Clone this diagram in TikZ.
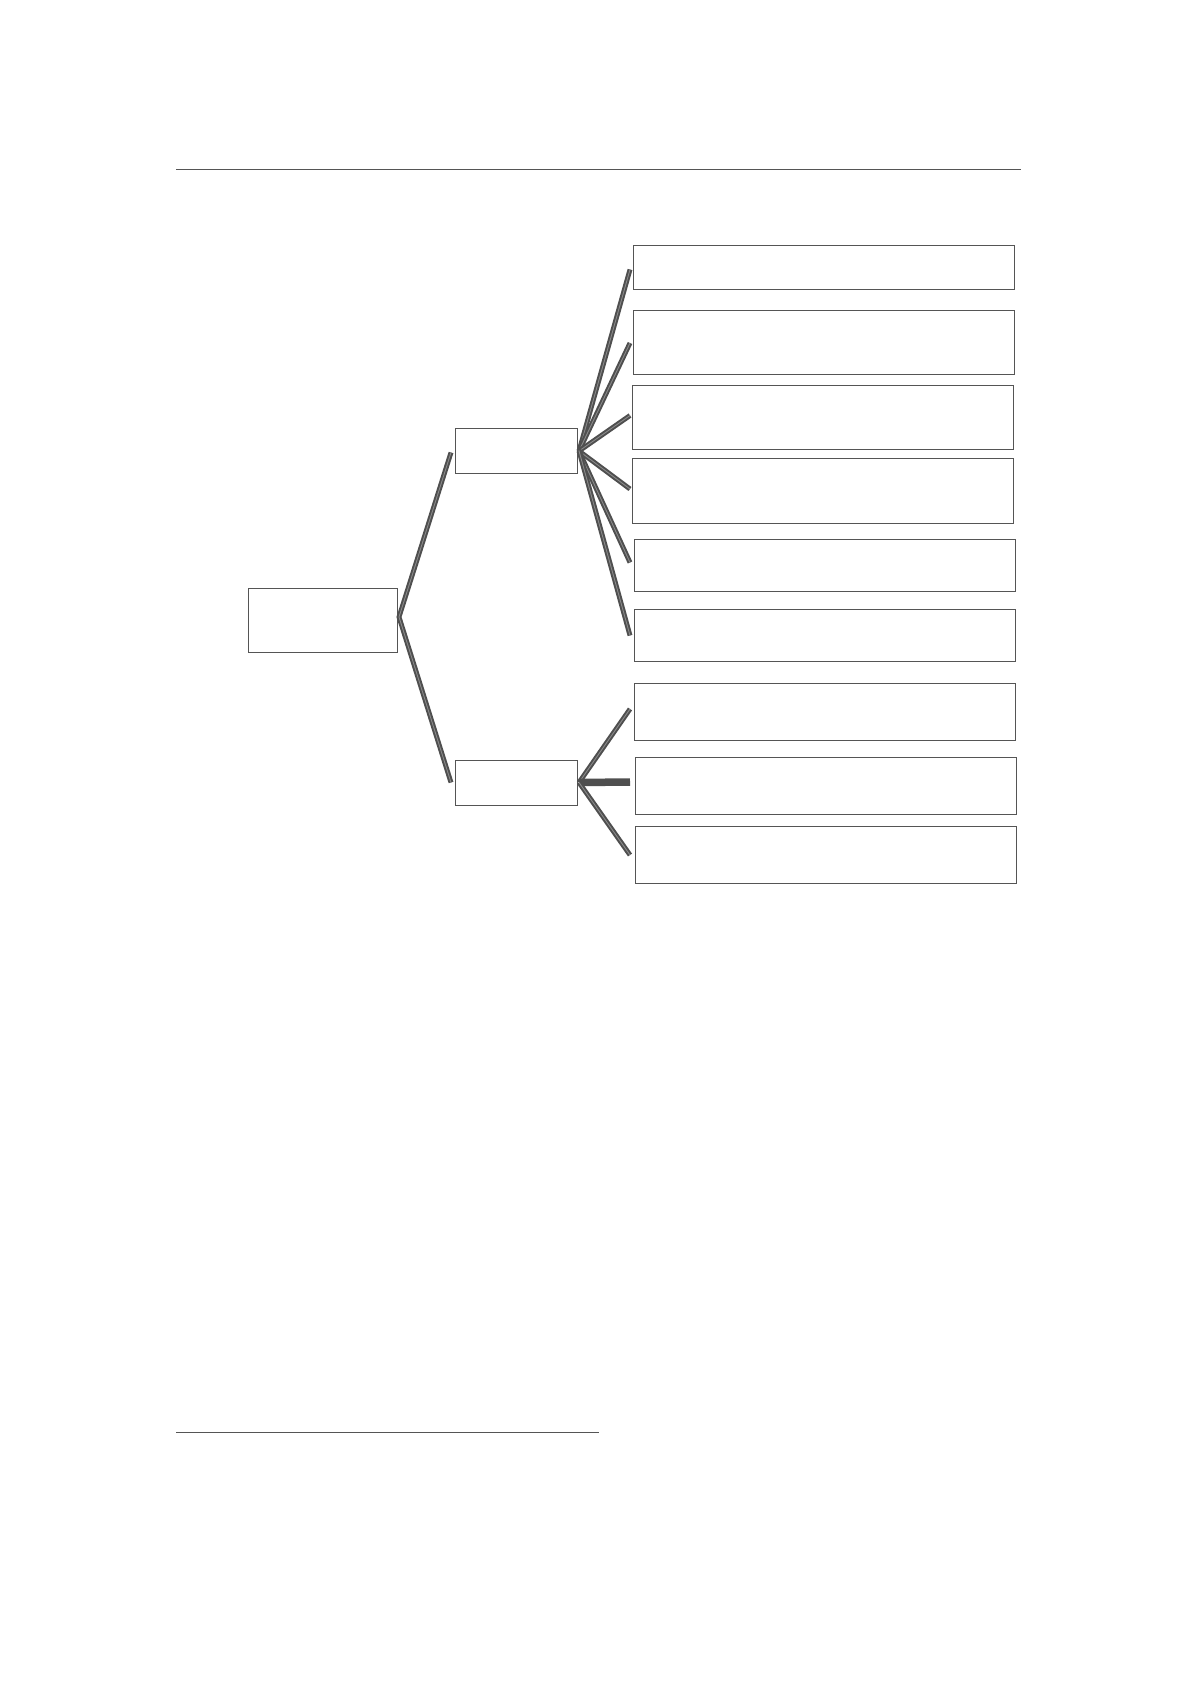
\documentclass[tikz,border=0pt]{standalone}
\usetikzlibrary{calc}
\definecolor{boxc}{HTML}{555555}
\definecolor{linkc}{HTML}{4F4F4F}
\definecolor{linkmid}{HTML}{8A8A8A}
\begin{document}
\begin{tikzpicture}[x=1pt,y=-1pt,
  box/.style={draw=boxc,line width=1pt,fill=white,anchor=north west,inner sep=0pt,outer sep=0pt},
  link/.style={draw=linkc,line width=2pt,double=linkmid,double distance=0.9pt},
  boldlink/.style={draw=linkc,line width=7.5pt}]
\fill[white] (0,0) rectangle (1197,1693);
\useasboundingbox (0,0) rectangle (1197,1693);
% rules
\coordinate (t1) at (176,169.5);
\coordinate (t2) at (1021,169.5);
\draw[boxc,line width=1pt] (t1) -- (t2);
\coordinate (b1) at (176,1432);
\coordinate (b2) at (599,1432);
\draw[boxc,line width=1pt] (b1) -- (b2);
% boxes
\node[box,minimum width=149pt,minimum height=64pt] (root) at (248,588) {};
\node[box,minimum width=122pt,minimum height=45pt] (m1) at (455,428) {};
\node[box,minimum width=122pt,minimum height=45pt] (m2) at (455,760) {};
\node[box,minimum width=381pt,minimum height=44pt] (l1) at (633,246) {};
\node[box,minimum width=381pt,minimum height=64pt] (l2) at (633,310.5) {};
\node[box,minimum width=381pt,minimum height=64pt] (l3) at (632,385) {};
\node[box,minimum width=381pt,minimum height=65pt] (l4) at (632,458.5) {};
\node[box,minimum width=381pt,minimum height=52pt] (l5) at (634,539.5) {};
\node[box,minimum width=381pt,minimum height=52pt] (l6) at (634,609.5) {};
\node[box,minimum width=381pt,minimum height=57pt] (l7) at (634,683) {};
\node[box,minimum width=381pt,minimum height=57pt] (l8) at (635,757) {};
\node[box,minimum width=381pt,minimum height=57pt] (l9) at (635,826) {};
% connectors
\coordinate (r0) at ($(root.east)+(2,-3)$);
\draw[link] ($(m1.west)+(-4,2)$) -- (r0) -- ($(m2.west)+(-4,0)$);
\coordinate (f1) at ($(m1.east)+(2,0.5)$);
\draw[link] (f1) -- ($(l1.west)+(-3,1.5)$);
\draw[link] (f1) -- ($(l2.west)+(-3,0.5)$);
\draw[link] (f1) -- ($(l3.west)+(-2,-1.5)$);
\draw[link] (f1) -- ($(l4.west)+(-2,-2)$);
\draw[link] (f1) -- ($(l5.west)+(-4,-3)$);
\draw[link] (f1) -- ($(l6.west)+(-4,0)$);
\coordinate (f2) at ($(m2.east)+(2,0)$);
\draw[link] (f2) -- ($(l7.west)+(-4,-2.5)$);
\draw[boldlink] (f2) -- ($(l8.west)+(-5,-3.5)$);
\draw[link] (f2) -- ($(l9.west)+(-5,0.5)$);
\end{tikzpicture}
\end{document}
